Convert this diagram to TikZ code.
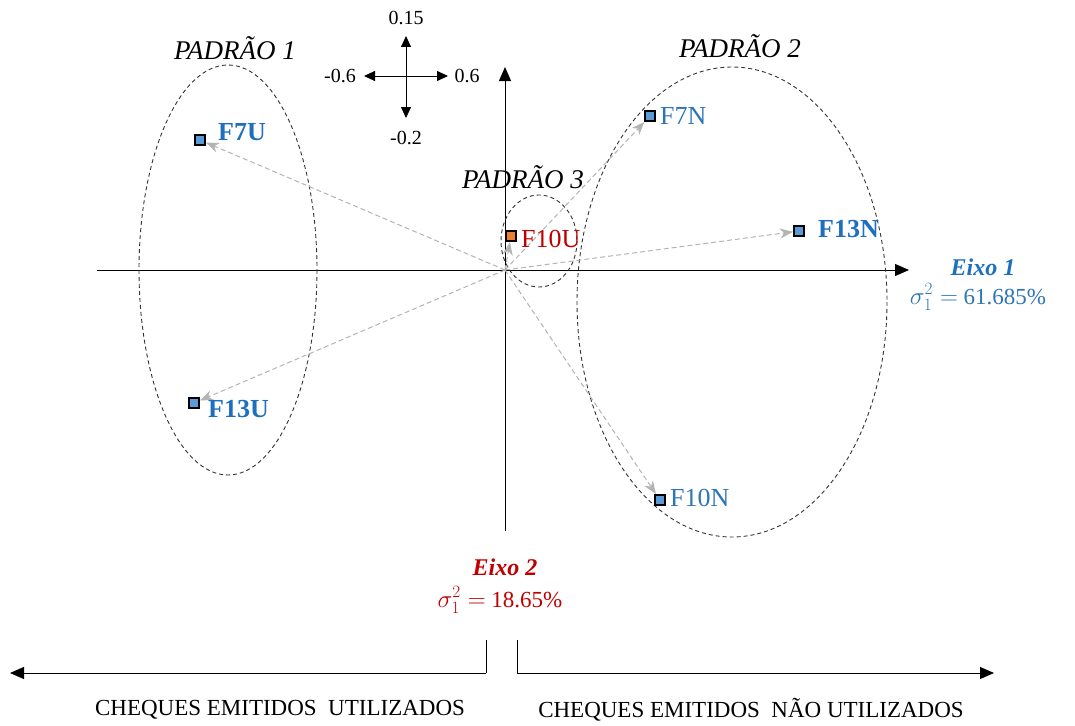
\documentclass[tikz,border=0pt]{standalone}
\usepackage{fontspec}
\setmainfont{Liberation Serif}
\usetikzlibrary{arrows.meta}
\definecolor{lblue}{HTML}{2E75B6}
\definecolor{dblue}{HTML}{1F6FC0}
\definecolor{dred}{HTML}{C00000}
\definecolor{sqblue}{HTML}{5B9BD5}
\definecolor{sqorange}{HTML}{ED7D31}
\definecolor{vecgray}{HTML}{B4B4B4}
\tikzset{
  axis/.style={line width=1pt, -{Triangle[length=14pt,width=12pt]}},
  compass/.style={line width=0.9pt, -{Triangle[length=11pt,width=10pt]}},
  grp/.style={draw=black!80, line width=0.9pt, dash pattern=on 4pt off 3pt},
  vec/.style={draw=vecgray, line width=1pt, dash pattern=on 5pt off 3pt, -{Stealth[length=13pt,width=10pt,inset=4pt]}},
  pt/.style={draw=black, line width=2pt, fill=#1, minimum size=10pt, inner sep=0pt, rectangle},
  lab/.style={font=\fontsize{26}{30}\selectfont, inner sep=0pt, anchor=west},
  blab/.style={font=\fontsize{26}{30}\selectfont\bfseries, inner sep=0pt, anchor=west},
  pad/.style={font=\fontsize{27}{32}\selectfont\itshape},
  num/.style={font=\fontsize{20}{24}\selectfont},
  bottom/.style={font=\fontsize{23}{28}\selectfont},
  eixo/.style={font=\fontsize{24}{28}\selectfont\bfseries\itshape},
  sig/.style={font=\fontsize{23}{28}\selectfont}
}
\begin{document}
\begin{tikzpicture}[x=1pt,y=-1pt]
\useasboundingbox (0,0) rectangle (1075,725);
% main axes
\coordinate (O) at (505,270);
\coordinate (xl) at (97,270);
\coordinate (xr) at (909,270);
\coordinate (yb) at (505,531);
\coordinate (yt) at (505,67);
\draw[axis] (xl) -- (xr);
\draw[axis] (yb) -- (yt);
% compass
\coordinate (c) at (406,76);
\coordinate (cu) at (406,36);
\coordinate (cd) at (406,118);
\coordinate (cl) at (364,76);
\coordinate (cr) at (448,76);
\draw[compass] (c) -- (cu);
\draw[compass] (c) -- (cd);
\draw[compass] (c) -- (cl);
\draw[compass] (c) -- (cr);
\node[num] (n015) at (406,18) {0.15};
\node[num] (n02) at (406,138) {-0.2};
\node[num] (n06l) at (340,76) {-0.6};
\node[num] (n06r) at (467,76) {0.6};
% groups
\draw[grp] (228,270) ellipse [x radius=89, y radius=205];
\draw[grp] (732,302) ellipse [x radius=155, y radius=235];
\draw[grp] (539,241) ellipse [x radius=38, y radius=46];
\node[pad] (p1) at (235,48) {PADRÃO 1};
\node[pad] (p2) at (740,46) {PADRÃO 2};
\node[pad] (p3) at (523,177) {PADRÃO 3};
% vectors
\node[pt=sqblue] (F7U) at (200,140) {};
\node[pt=sqblue] (F13U) at (194,403) {};
\node[pt=sqorange] (F10U) at (511,236) {};
\node[pt=sqblue] (F7N) at (650,116) {};
\node[pt=sqblue] (F13N) at (799,231) {};
\node[pt=sqblue] (F10N) at (660,500) {};
\draw[vec] (O) -- (F7U);
\draw[vec] (O) -- (F13U);
\draw[vec] (O) -- (F10U);
\draw[vec] (O) -- (F7N);
\draw[vec] (O) -- (F13N);
\draw[vec] (O) -- (F10N);
% redraw squares on top
\node[pt=sqblue] at (F7U) {};
\node[pt=sqblue] at (F13U) {};
\node[pt=sqorange] at (F10U) {};
\node[pt=sqblue] at (F7N) {};
\node[pt=sqblue] at (F13N) {};
\node[pt=sqblue] at (F10N) {};
% labels
\node[blab, text=dblue] (lF7U) at (218,132) {F7U};
\node[blab, text=dblue] (lF13U) at (208,409) {F13U};
\node[lab, text=dred] (lF10U) at (521,239) {F10U};
\node[lab, text=lblue] (lF7N) at (660,116) {F7N};
\node[blab, text=dblue] (lF13N) at (818,229) {F13N};
\node[lab, text=lblue] (lF10N) at (670,498) {F10N};
% axis labels
\node[eixo, text=dblue] (e1) at (983,267) {Eixo 1};
\node[sig, text=lblue] (s1) at (978,297) {$\sigma_1^2 =$ 61.685\%};
\node[eixo, text=dred] (e2) at (505,567) {Eixo 2};
\node[sig, text=dred] (s2) at (500,600) {$\sigma_1^2 =$ 18.65\%};
% bottom brackets
\coordinate (lt) at (486,640);
\coordinate (lc) at (486,673);
\coordinate (le) at (10,673);
\coordinate (rt) at (517,640);
\coordinate (rc) at (517,673);
\coordinate (re) at (994,673);
\draw[line width=1pt] (lt) -- (lc);
\draw[axis] (lc) -- (le);
\draw[line width=1pt] (rt) -- (rc);
\draw[axis] (rc) -- (re);
\node[bottom] (bl) at (280,710) {CHEQUES EMITIDOS\ \ UTILIZADOS};
\node[bottom] (br) at (751,710) {CHEQUES EMITIDOS\ \ NÃO UTILIZADOS};
\end{tikzpicture}
\end{document}
